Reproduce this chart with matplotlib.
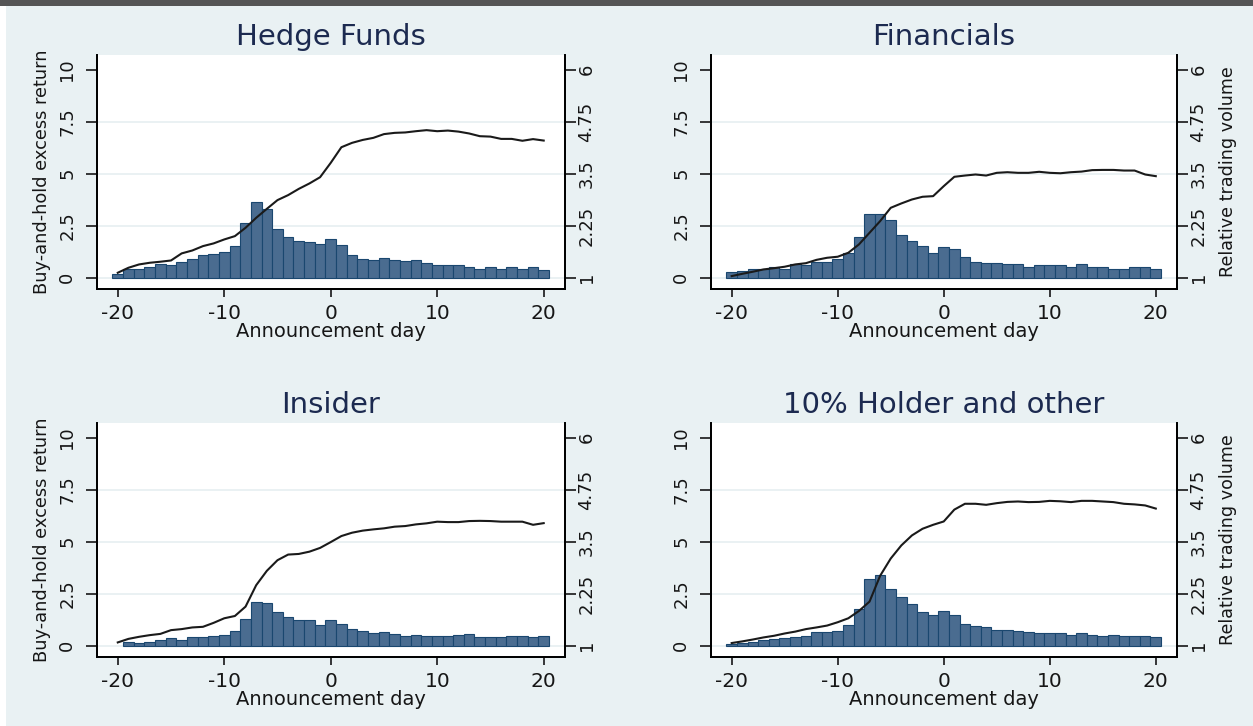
import numpy as np
import matplotlib
matplotlib.use("Agg")
import matplotlib.pyplot as plt
from matplotlib.patches import Rectangle

# ---------------- data ----------------
days = list(range(-20, 21))

titles = ["Hedge Funds", "Financials", "Insider", "10% Holder and other"]

# Buy-and-hold excess return (left axis, line)
ret_hedge = [0.24, 0.48, 0.64, 0.72, 0.77, 0.83, 1.17, 1.31, 1.52, 1.65, 1.84, 2.00, 2.40,
             2.88, 3.31, 3.73, 3.97, 4.27, 4.53, 4.83, 5.52, 6.27, 6.48, 6.62, 6.72, 6.90,
             6.96, 6.98, 7.04, 7.09, 7.04, 7.07, 7.02, 6.93, 6.80, 6.78, 6.67, 6.67, 6.58,
             6.66, 6.59]
ret_fin = [0.08, 0.19, 0.29, 0.40, 0.46, 0.53, 0.64, 0.70, 0.86, 0.96, 1.01, 1.20, 1.60,
           2.16, 2.72, 3.36, 3.57, 3.76, 3.89, 3.92, 4.40, 4.85, 4.91, 4.96, 4.91, 5.04,
           5.07, 5.04, 5.04, 5.09, 5.04, 5.02, 5.07, 5.10, 5.17, 5.18, 5.18, 5.15, 5.15,
           4.96, 4.88]
ret_ins = [0.16, 0.33, 0.43, 0.51, 0.57, 0.75, 0.80, 0.88, 0.91, 1.10, 1.32, 1.43, 1.88,
           2.91, 3.60, 4.11, 4.38, 4.41, 4.52, 4.70, 4.98, 5.27, 5.43, 5.53, 5.59, 5.64,
           5.72, 5.75, 5.83, 5.88, 5.96, 5.94, 5.94, 5.99, 6.00, 5.99, 5.96, 5.96, 5.96,
           5.81, 5.89]
ret_hold = [0.13, 0.21, 0.30, 0.40, 0.48, 0.59, 0.68, 0.80, 0.88, 0.97, 1.13, 1.32, 1.67,
            2.12, 3.36, 4.19, 4.82, 5.30, 5.62, 5.81, 5.97, 6.54, 6.82, 6.82, 6.77, 6.85,
            6.91, 6.93, 6.90, 6.91, 6.96, 6.94, 6.90, 6.96, 6.96, 6.93, 6.90, 6.82, 6.79,
            6.74, 6.59]

# Relative trading volume (right axis, bars)
vol_hedge = [1.10, 1.20, 1.22, 1.27, 1.34, 1.30, 1.39, 1.45, 1.54, 1.57, 1.63, 1.77, 2.32,
             2.82, 2.64, 2.18, 1.98, 1.89, 1.86, 1.80, 1.94, 1.79, 1.54, 1.46, 1.42, 1.48,
             1.43, 1.40, 1.42, 1.36, 1.30, 1.30, 1.30, 1.27, 1.22, 1.25, 1.22, 1.25, 1.22,
             1.25, 1.19]
vol_fin = [1.14, 1.17, 1.20, 1.22, 1.25, 1.22, 1.32, 1.30, 1.39, 1.39, 1.46, 1.60, 1.98,
           2.53, 2.53, 2.38, 2.03, 1.89, 1.77, 1.60, 1.74, 1.68, 1.50, 1.39, 1.36, 1.36,
           1.33, 1.33, 1.25, 1.30, 1.30, 1.30, 1.27, 1.34, 1.27, 1.25, 1.22, 1.22, 1.27,
           1.25, 1.22]
vol_ins = [None, 1.08, 1.06, 1.10, 1.13, 1.18, 1.14, 1.21, 1.21, 1.24, 1.27, 1.35, 1.64,
           2.05, 2.02, 1.81, 1.70, 1.61, 1.61, 1.49, 1.61, 1.53, 1.41, 1.35, 1.30, 1.33,
           1.29, 1.24, 1.26, 1.23, 1.23, 1.23, 1.26, 1.29, 1.20, 1.20, 1.20, 1.23, 1.23,
           1.20, 1.24]
vol_hold = [1.05, 1.06, 1.10, 1.14, 1.16, 1.18, 1.21, 1.24, 1.33, 1.33, 1.36, 1.50, 1.88,
            2.60, 2.69, 2.37, 2.17, 2.00, 1.82, 1.73, 1.84, 1.73, 1.53, 1.47, 1.44, 1.38,
            1.38, 1.36, 1.33, 1.30, 1.30, 1.30, 1.27, 1.30, 1.27, 1.24, 1.27, 1.24, 1.24,
            1.24, 1.21]

returns = [ret_hedge, ret_fin, ret_ins, ret_hold]
volumes = [vol_hedge, vol_fin, vol_ins, vol_hold]

x_ticks = [-20, -10, 0, 10, 20]
x_ticklabels = ["-20", "-10", "0", "10", "20"]
ret_ticks = [0, 2.5, 5, 7.5, 10]
ret_ticklabels = ["0", "2.5", "5", "7.5", "10"]
vol_ticks = [1, 2.25, 3.5, 4.75, 6]
vol_ticklabels = ["1", "2.25", "3.5", "4.75", "6"]

# ---------------- style ----------------
plt.rcParams["font.family"] = ["DejaVu Sans"]
BG = "#e9f1f3"
BAR_FILL = "#4a6c90"
BAR_EDGE = "#1a476f"
LINE = "#1a1a1a"
TITLE_C = "#1c2a50"
TEXT_C = "#161616"

W, H = 1253, 726
fig = plt.figure(figsize=(W / 100, H / 100), dpi=100, facecolor=BG)

# frame decoration: dark band on top, white strip on left
fig.patches.append(Rectangle((0, 1 - 6 / H), 1, 6 / H, transform=fig.transFigure,
                             facecolor="#555555", edgecolor="none", zorder=0))
fig.patches.append(Rectangle((0, 0), 6 / W, 1 - 6 / H, transform=fig.transFigure,
                             facecolor="white", edgecolor="none", zorder=0))


def rect(l, r, t, b):
    return [l / W, 1 - b / H, (r - l) / W, (b - t) / H]


boxes = [(97, 565, 55, 289), (711, 1177, 55, 289),
         (97, 565, 423, 657), (711, 1177, 423, 657)]

ret_lim = (-0.54, 10.7)
vol_lim = (1 + ret_lim[0] / 2, 1 + ret_lim[1] / 2)

for i in range(4):
    l, r, t, b = boxes[i]
    ax = fig.add_axes(rect(l, r, t, b))       # volume axis (right side), bars
    ax2 = ax.twinx()                          # return axis (left side), line
    ax2.yaxis.tick_left()
    ax2.yaxis.set_label_position("left")
    ax.yaxis.tick_right()
    ax.yaxis.set_label_position("right")

    ax.set_facecolor("white")
    ax.set_xlim(-21.95, 22.0)
    ax.set_ylim(*vol_lim)
    ax2.set_ylim(*ret_lim)

    # faint gridlines
    ax.set_axisbelow(True)
    for gv in vol_ticks[:-1]:
        ax.axhline(gv, color="#e6eff1", lw=1.2, zorder=0)

    vols = np.array([np.nan if v is None else v for v in volumes[i]], dtype=float)
    d = np.array(days)
    m = ~np.isnan(vols)
    ax.bar(d[m], vols[m] - 1, bottom=1, width=1.0, color=BAR_FILL,
           edgecolor=BAR_EDGE, linewidth=0.8, zorder=2)

    ax2.plot(days, returns[i], color=LINE, lw=1.5, zorder=3)

    for a in (ax, ax2):
        a.spines["top"].set_visible(False)
        for s in ("left", "right", "bottom"):
            a.spines[s].set_color("black")
            a.spines[s].set_linewidth(1.3)

    ax.set_xticks(x_ticks, labels=x_ticklabels)
    ax.tick_params(axis="x", direction="out", length=6, width=1.2, pad=5,
                   labelsize=14.5, colors=TEXT_C)
    ax.set_xlabel("Announcement day", fontsize=14, color=TEXT_C, labelpad=-1)

    ax.set_yticks(vol_ticks, labels=vol_ticklabels)
    ax.tick_params(axis="y", direction="out", length=8, width=1.2, pad=1,
                   labelsize=13, colors=TEXT_C, labelrotation=90)
    for lab in ax.get_yticklabels():
        lab.set_va("center")

    ax2.set_yticks(ret_ticks, labels=ret_ticklabels)
    ax2.tick_params(axis="y", direction="out", length=8, width=1.2, pad=7,
                    labelsize=13, colors=TEXT_C, labelrotation=90)
    for lab in ax2.get_yticklabels():
        lab.set_va("center")

    if i % 2 == 0:
        ax2.set_ylabel("Buy-and-hold excess return", fontsize=12.8, color=TEXT_C)
        ax2.yaxis.set_label_coords(-0.098, 0.5)
    else:
        ax.set_ylabel("Relative trading volume", fontsize=12.6, color=TEXT_C)
        ax.yaxis.set_label_coords(1.09, 0.5)

    fig.text((l + r) / 2 / W, 1 - (t - 10) / H,
             titles[i], ha="center", va="baseline", fontsize=21, color=TITLE_C)

fig.savefig("out.png", dpi=100, facecolor=BG)
